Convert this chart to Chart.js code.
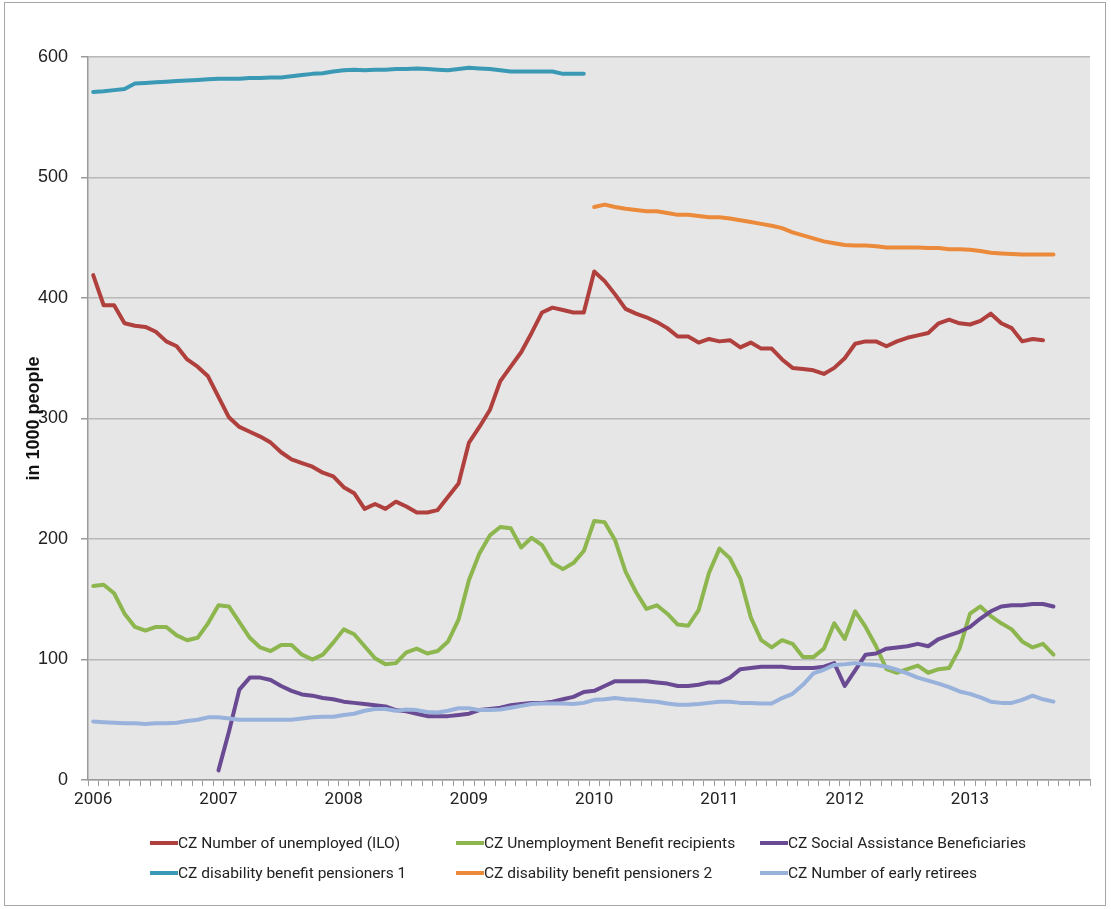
<!DOCTYPE html>
<html lang="en">
<head>
  <meta charset="UTF-8">
  <title>CZ unemployment and benefit recipients</title>
  <script src="https://cdn.jsdelivr.net/npm/chart.js"></script>
  <style>
    body {
      margin: 0;
      background: #fff;
    }
    #frame {
      position: absolute;
      left: 4px;
      top: 2px;
      width: 1102px;
      height: 904px;
      border: 1px solid #a6a6a6;
      box-sizing: border-box;
    }
    #wrap {
      position: absolute;
      left: 0;
      top: 0;
      width: 1111px;
      height: 909px;
    }
    #legend {
      position: absolute;
      left: 0;
      top: 0;
      width: 1111px;
      height: 909px;
      pointer-events: none;
      font-family: Roboto, 'Liberation Sans', sans-serif;
      font-size: 15.5px;
      color: #222;
    }
    .item {
      position: absolute;
      white-space: nowrap;
      line-height: 20px;
    }
    .swatch {
      display: inline-block;
      width: 28px;
      height: 4px;
      vertical-align: middle;
      margin-top: -2px;
    }
  </style>
</head>
<body>
  <div id="frame"></div>
  <div id="wrap"><canvas id="chart"></canvas></div>
  <div id="legend"></div>

  <script>
    // monthly, Jan 2006 .. Dec 2013
    const years = [2006, 2007, 2008, 2009, 2010, 2011, 2012, 2013];
    const months = ['01', '02', '03', '04', '05', '06', '07', '08', '09', '10', '11', '12'];
    const categories = [];
    years.forEach(y => months.forEach(m => categories.push(y + '-' + m)));

    const yTicks = [0, 100, 200, 300, 400, 500, 600];

    const unemployedILO = [
      419, 394, 394, 379, 377, 376, 372, 364, 360, 349, 343, 335,
      318, 301, 293, 289, 285, 280, 272, 266, 263, 260, 255, 252,
      243, 238, 225, 229, 225, 231, 227, 222, 222, 224, 235, 246,
      280, 293, 307, 331, 343, 355, 371, 388, 392, 390, 388, 388,
      422, 414, 403, 391, 387, 384, 380, 375, 368, 368, 363, 366,
      364, 365, 359, 363, 358, 358, 349, 342, 341, 340, 337, 342,
      350, 362, 364, 364, 360, 364, 367, 369, 371, 379, 382, 379,
      378, 381, 387, 379, 375, 364, 366, 365
    ];

    const benefitRecipients = [
      161, 162, 155, 138, 127, 124, 127, 127, 120, 116, 118, 130,
      145, 144, 131, 118, 110, 107, 112, 112, 104, 100, 104, 114,
      125, 121, 111, 101, 96, 97, 106, 109, 105, 107, 115, 133,
      166, 188, 203, 210, 209, 193, 201, 195, 180, 175, 180, 190,
      215, 214, 199, 173, 156, 142, 145, 138, 129, 128, 141, 172,
      192, 184, 167, 135, 116, 110, 116, 113, 102, 102, 109, 130,
      117, 140, 127, 111, 92, 89, 92, 95, 89, 92, 93, 109,
      138, 144, 136, 130, 125, 115, 110, 113, 104
    ];

    const socialAssistance = [
      null, null, null, null, null, null, null, null, null, null, null, null,
      8, 40, 75, 85, 85, 83, 78, 74, 71, 70, 68, 67,
      65, 64, 63, 62, 61, 58, 57, 55, 53, 53, 53, 54,
      55, 58, 59, 60, 62, 63, 64, 64, 65, 67, 69, 73,
      74, 78, 82, 82, 82, 82, 81, 80, 78, 78, 79, 81,
      81, 85, 92, 93, 94, 94, 94, 93, 93, 93, 94, 97,
      78, 91, 104, 105, 109, 110, 111, 113, 111, 117, 120, 123,
      127, 134, 140, 144, 145, 145, 146, 146, 144
    ];

    const disability1 = [
      571, 571.5, 572.5, 573.5, 578, 578.5, 579, 579.5, 580, 580.5, 581, 581.5,
      582, 582, 582, 582.5, 582.5, 583, 583, 584, 585, 586, 586.5, 588,
      589, 589.5, 589, 589.5, 589.5, 590, 590, 590.5, 590, 589.5, 589, 590,
      591, 590.5, 590, 589, 588, 588, 588, 588, 588, 586, 586, 586
    ];

    const disability2 = [
      null, null, null, null, null, null, null, null, null, null, null, null,
      null, null, null, null, null, null, null, null, null, null, null, null,
      null, null, null, null, null, null, null, null, null, null, null, null,
      null, null, null, null, null, null, null, null, null, null, null, null,
      475.5, 477.5, 475.5, 474, 473, 472, 472, 470.5, 469, 469, 468, 467,
      467, 466, 464.5, 463, 461.5, 460, 458, 454.5, 452, 449.5, 447, 445.5,
      444, 443.5, 443.5, 443, 442, 442, 442, 442, 441.5, 441.5, 440.5, 440.5,
      440, 439, 437.5, 437, 436.5, 436, 436, 436, 436
    ];

    const earlyRetirees = [
      48.5, 48, 47.5, 47, 47, 46.5, 47, 47, 47.5, 49, 50, 52,
      52, 51, 50, 50, 50, 50, 50, 50, 51, 52, 52.5, 52.5,
      54, 55, 57.5, 59, 59, 57.5, 58.5, 58, 56.5, 56, 57.5, 59.5,
      59.5, 58, 58, 58.5, 60, 61.5, 63, 63.5, 63.5, 63.5, 63, 64,
      66.5, 67, 68, 67, 66.5, 65.5, 65, 63.5, 62.5, 62.5, 63, 64,
      65, 65, 64, 64, 63.5, 63.5, 68, 71.5, 79, 88.5, 91.5, 95.5,
      96, 97, 96, 95.5, 94, 91.5, 88.5, 85, 82.5, 80, 77, 73.5,
      71.5, 68.5, 65, 64, 64, 66.5, 70, 67, 65
    ];

    const seriesNames = [
      'CZ Number of unemployed (ILO)',
      'CZ Unemployment Benefit recipients',
      'CZ Social Assistance Beneficiaries',
      'CZ disability benefit pensioners 1',
      'CZ disability benefit pensioners 2',
      'CZ Number of early retirees'
    ];
    const seriesData = [unemployedILO, benefitRecipients, socialAssistance, disability1, disability2, earlyRetirees];
    const seriesColors = ['#B0403D', '#8DB64F', '#6A4B93', '#3A99B4', '#EC8A3B', '#98B2DC'];

    const plotBg = {
      id: 'plotBg',
      beforeDraw(chart) {
        const a = chart.chartArea;
        const ctx = chart.ctx;
        ctx.save();
        ctx.fillStyle = '#E6E6E6';
        ctx.fillRect(a.left, a.top, a.right - a.left, a.bottom - a.top);
        ctx.restore();
      }
    };

    const chart = new Chart(document.getElementById('chart'), {
      type: 'line',
      data: {
        labels: categories,
        datasets: seriesNames.map((name, i) => ({
          label: name,
          data: seriesData[i],
          borderColor: seriesColors[i],
          backgroundColor: seriesColors[i],
          borderWidth: 4,
          pointRadius: 0,
          tension: 0,
          spanGaps: false,
          borderCapStyle: 'round',
          borderJoinStyle: 'round',
          order: seriesNames.length - i
        }))
      },
      options: {
        responsive: true,
        maintainAspectRatio: false,
        animation: false,
        layout: { padding: { top: 57, right: 21, bottom: 0, left: 0 } },
        plugins: {
          legend: { display: false },
          tooltip: { enabled: false }
        },
        scales: {
          x: {
            type: 'category',
            offset: true,
            afterFit: s => { s.height = 129; },
            grid: {
              drawOnChartArea: false,
              offset: true,
              tickLength: 6,
              color: '#9a9a9a'
            },
            border: { color: '#9a9a9a', width: 1.5 },
            ticks: {
              autoSkip: false,
              maxRotation: 0,
              padding: 4,
              color: '#222',
              font: { family: "Roboto, 'Liberation Sans', sans-serif", size: 17 },
              callback: function(v, i) {
                const lab = categories[i];
                return lab.endsWith('-01') ? lab.slice(0, 4) : '';
              }
            }
          },
          y: {
            min: yTicks[0],
            max: yTicks[yTicks.length - 1],
            afterFit: s => { s.width = 88; },
            afterBuildTicks: s => { s.ticks = yTicks.map(v => ({ value: v })); },
            grid: {
              color: '#B8B8B8',
              lineWidth: 1.5,
              tickLength: 7,
              tickColor: '#9a9a9a'
            },
            border: { color: '#9a9a9a', width: 1.5 },
            ticks: {
              padding: 13,
              color: '#222',
              font: { family: "'Liberation Sans', Arial, sans-serif", size: 18 }
            },
            title: {
              display: true,
              text: 'in 1000 people',
              color: '#111',
              padding: { top: 23, bottom: 0 },
              font: { family: "'Liberation Sans', Arial, sans-serif", size: 18, weight: 'bold' }
            }
          }
        }
      },
      plugins: [plotBg]
    });

    // legend in three aligned columns, two rows
    const colX = [150, 456, 760];
    const rowY = [833, 863];
    const legend = document.getElementById('legend');
    chart.data.datasets.forEach((ds, i) => {
      const el = document.createElement('div');
      el.className = 'item';
      el.style.left = colX[i % 3] + 'px';
      el.style.top = rowY[Math.floor(i / 3)] + 'px';
      el.innerHTML = '<span class="swatch" style="background:' + ds.borderColor + '"></span>' + ds.label;
      legend.appendChild(el);
    });
  </script>
</body>
</html>
